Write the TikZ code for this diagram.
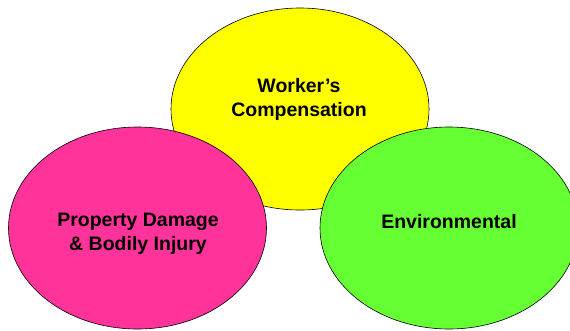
\documentclass[tikz,border=0pt]{standalone}
\usepackage{fontspec}
\setmainfont{Liberation Sans}
\usetikzlibrary{shapes.geometric}
\usepackage{xcolor}
\definecolor{lineyellow}{HTML}{FFFF00}
\definecolor{linepink}{HTML}{FF3399}
\definecolor{linegreen}{HTML}{66FF33}
\tikzset{
	area/.style={ellipse, draw=black, line width=0.6pt, inner sep=0pt,
		minimum width=258pt, minimum height=202pt},
	areatext/.style={align=center, font=\fontsize{19.5}{24}\selectfont\bfseries}
}
\begin{document}
\begin{tikzpicture}[x=1pt,y=-1pt]
	\useasboundingbox (0,0) rectangle (570,330);
	\node [area, fill=lineyellow] (workers) at (300,109) {};
	\node [area, fill=linepink] (property) at (137.5,228) {};
	\node [area, fill=linegreen] (environ) at (449,228) {};
	\node [areatext] (workerstext) at (299,99) {Worker’s\\Compensation};
	\node [areatext] (propertytext) at (138,234) {Property Damage\\\& Bodily Injury};
	\node [areatext] (environtext) at (449,222) {Environmental};
\end{tikzpicture}
\end{document}
